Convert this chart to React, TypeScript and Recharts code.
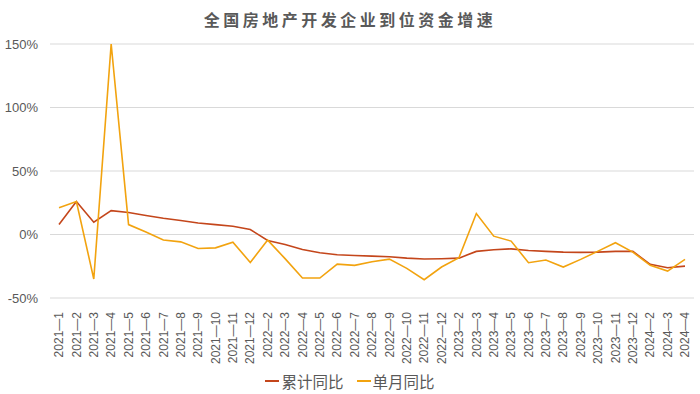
import React from 'react';
import { LineChart, Line, XAxis, YAxis, CartesianGrid } from 'recharts';

const MONTHS = [
  '2021-1', '2021-2', '2021-3', '2021-4', '2021-5', '2021-6', '2021-7', '2021-8', '2021-9', '2021-10', '2021-11', '2021-12',
  '2022-2', '2022-3', '2022-4', '2022-5', '2022-6', '2022-7', '2022-8', '2022-9', '2022-10', '2022-11', '2022-12',
  '2023-2', '2023-3', '2023-4', '2023-5', '2023-6', '2023-7', '2023-8', '2023-9', '2023-10', '2023-11', '2023-12',
  '2024-2', '2024-3', '2024-4',
];

// 累计同比 (%)
const CUMULATIVE = [
  7.8, 26, 9.7, 18.8, 17.3, 15, 12.8, 11, 9, 7.8, 6.5, 3.9,
  -4.7, -7.8, -11.8, -14.4, -16, -16.5, -17, -17.5, -18.6, -19.3, -19.1,
  -18.6, -13.3, -12, -11.3, -12.6, -13.3, -13.9, -14.1, -13.9, -13.3, -13.3,
  -23.5, -26.2, -24.9,
];

// 单月同比 (%)
const MONTHLY = [
  21, 26, -35, 150, 7.8, 2, -4.4, -5.8, -11, -10.5, -6, -22,
  -4.4, -19, -34.3, -34.3, -23.3, -24.3, -21.4, -19.4, -26.7, -35.6, -25.6,
  -18.3, 16.5, -1.3, -5.2, -22.2, -20.1, -25.6, -19.6, -13.1, -6.5, -13.9,
  -24.3, -28.8, -19.6,
];

const Y_TICKS = [-50, 0, 50, 100, 150];

const RED = '#C4461B';
const ORANGE = '#F2A30F';
const TEXT = '#595959';
const FONT = "'Liberation Sans', Arial, 'Noto Sans CJK SC', sans-serif";

const data = MONTHS.map((m, i) => ({ month: m, cum: CUMULATIVE[i], mon: MONTHLY[i] }));

const MonthTick = (props: any) => {
  const { x, y, payload } = props;
  return (
    <g transform={`translate(${x},${y})`}>
      <text transform="rotate(-90)" x={-6} y={0} dy="0.35em" textAnchor="end" fill={TEXT} fontSize={12} fontFamily={FONT}>
        {String(payload.value).replace('-', '—')}
      </text>
    </g>
  );
};

const App: React.FC = () => {
  return (
    <div style={{ position: 'relative', width: 700, height: 394, background: '#fff', fontFamily: FONT }}>
      <style>{'body{margin:0}'}</style>
      <div style={{ position: 'absolute', top: 7, left: 0, width: 700, textAlign: 'center', fontSize: 16, letterSpacing: 3.5, fontWeight: 'bold', color: TEXT }}>
        全国房地产开发企业到位资金增速
      </div>
      <LineChart width={700} height={394} data={data} margin={{ top: 44, right: 6, left: 0, bottom: 26 }}>
        <CartesianGrid vertical={false} stroke="#D9D9D9" />
        <XAxis
          dataKey="month"
          interval={0}
          height={70}
          padding={{ left: 9, right: 9 }}
          axisLine={false}
          tickLine={false}
          tick={<MonthTick />}
        />
        <YAxis
          width={50}
          domain={[-50, 150]}
          ticks={Y_TICKS}
          axisLine={false}
          tickLine={false}
          tickMargin={6}
          tickFormatter={(v: number) => `${v}%`}
          tick={{ fill: TEXT, fontSize: 13, fontFamily: FONT }}
        />
        <Line dataKey="cum" stroke={RED} strokeWidth={1.6} dot={false} isAnimationActive={false} />
        <Line dataKey="mon" stroke={ORANGE} strokeWidth={1.6} dot={false} isAnimationActive={false} />
      </LineChart>
      <div style={{ position: 'absolute', top: 370, left: 0, width: 700, display: 'flex', justifyContent: 'center', gap: 13, fontSize: 15.5, color: TEXT }}>
        <span style={{ display: 'flex', alignItems: 'center' }}>
          <span style={{ display: 'inline-block', width: 14, height: 2, background: RED, marginRight: 2 }} />累计同比
        </span>
        <span style={{ display: 'flex', alignItems: 'center' }}>
          <span style={{ display: 'inline-block', width: 14, height: 2, background: ORANGE, marginRight: 2 }} />单月同比
        </span>
      </div>
    </div>
  );
};

export default App;
